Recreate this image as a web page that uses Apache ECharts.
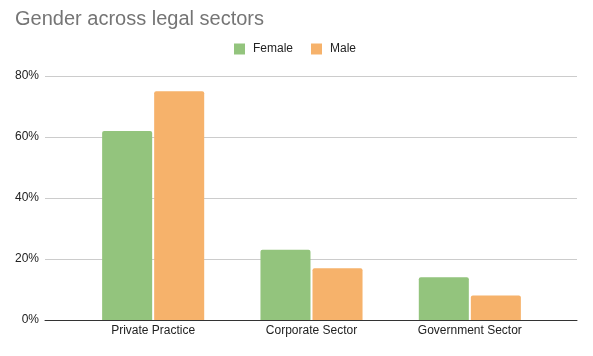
<!DOCTYPE html>
<html><head><meta charset="utf-8">
<script src="https://cdn.jsdelivr.net/npm/echarts@6/dist/echarts.min.js"></script>
<style>html,body{margin:0;padding:0;background:#fff}#c{width:593px;height:356px}</style>
</head><body><div id="c"></div>
<script>
var categories = ['Private Practice', 'Corporate Sector', 'Government Sector'];
var female = [62, 23, 14];
var male = [75, 17, 8];
var yTicks = [0, 20, 40, 60, 80];

var chart = echarts.init(document.getElementById('c'), null, {renderer: 'canvas'});
var font = 'Liberation Sans, Arial, sans-serif';
chart.setOption({
  animation: false,
  title: {text: 'Gender across legal sectors', left: 10, top: 4,
    textStyle: {fontFamily: font, fontSize: 20, fontWeight: 'normal', color: '#757575'}},
  legend: {top: 38, left: 229, itemWidth: 11, itemHeight: 11, itemGap: 18,
    icon: 'rect',
    textStyle: {fontFamily: font, fontSize: 12, color: '#222', padding: [0, 0, 0, 3]},
    data: ['Female', 'Male']},
  grid: [
    {left: 74, right: 44, top: 76, bottom: 36},
    {left: 45, right: 16, top: 76, bottom: 36}
  ],
  xAxis: [
    {type: 'category', gridIndex: 0, data: categories,
      axisLine: {show: false}, axisTick: {show: false},
      axisLabel: {fontFamily: font, fontSize: 12, color: '#222', margin: 5}},
    {type: 'category', gridIndex: 1, data: categories,
      axisLine: {show: true, lineStyle: {color: '#333', width: 1}}, axisTick: {show: false},
      axisLabel: {show: false}}
  ],
  yAxis: [
    {type: 'value', gridIndex: 0, min: 0, max: 80, interval: 20,
      axisLabel: {show: false}, splitLine: {show: false}, axisLine: {show: false}, axisTick: {show: false}},
    {type: 'value', gridIndex: 1, min: yTicks[0], max: yTicks[yTicks.length-1], interval: 20,
      axisLabel: {fontFamily: font, fontSize: 12, color: '#222', margin: 6, formatter: '{value}%'},
      splitLine: {lineStyle: {color: '#cccccc', width: 1}},
      axisLine: {show: false}, axisTick: {show: false}}
  ],
  series: [
    {name: 'Female', type: 'bar', xAxisIndex: 0, yAxisIndex: 0, data: female,
      barWidth: '31.6%', barGap: '4%', itemStyle: {color: '#93c47d', borderRadius: [2,2,0,0]}},
    {name: 'Male', type: 'bar', xAxisIndex: 0, yAxisIndex: 0, data: male,
      barWidth: '31.6%', barGap: '4%', itemStyle: {color: '#f6b26b', borderRadius: [2,2,0,0]}}
  ]
});
</script></body></html>
